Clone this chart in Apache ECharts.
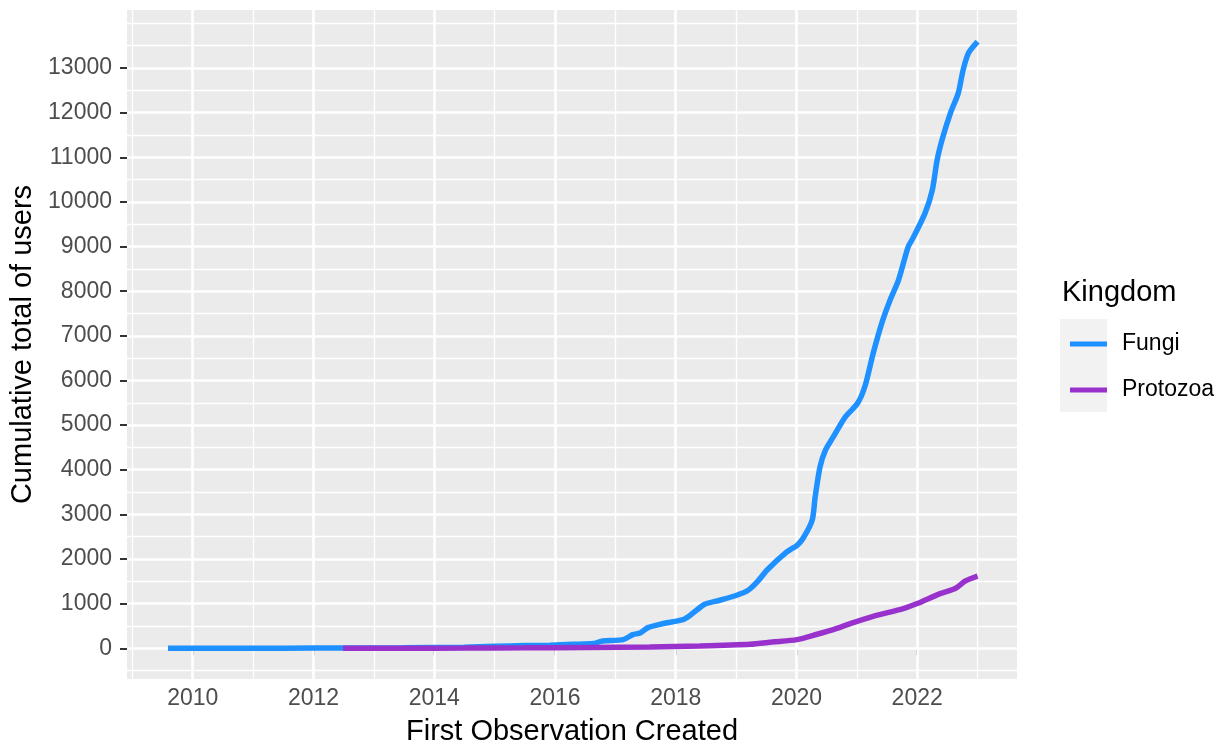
<!DOCTYPE html>
<html>
<head>
<meta charset="utf-8">
<script src="https://cdn.jsdelivr.net/npm/echarts@6/dist/echarts.min.js"></script>
<style>
  html, body { margin: 0; background: #fff; }
  #chart { width: 1225px; height: 748px; }
</style>
</head>
<body>
<div id="chart"></div>
<script>
const fungiYear = [2009.59, 2010.5, 2011.5, 2012.5, 2013.5, 2014.5, 2015.0, 2015.5, 2015.92, 2016.3, 2016.63, 2016.79, 2017.13, 2017.29, 2017.41, 2017.54, 2017.74, 2018.12, 2018.24, 2018.48, 2018.73, 2019.01, 2019.2, 2019.35, 2019.51, 2019.84, 2020.01, 2020.11, 2020.26, 2020.31, 2020.39, 2020.48, 2020.61, 2020.81, 2021.01, 2021.14, 2021.27, 2021.42, 2021.55, 2021.69, 2021.85, 2021.93, 2022.13, 2022.25, 2022.33, 2022.42, 2022.55, 2022.68, 2022.76, 2022.85, 2023.0]
const fungiUsers = [1, 2, 3, 5, 10, 25, 45, 60, 70, 90, 105, 165, 195, 306, 343, 463, 538, 643, 740, 986, 1076, 1188, 1300, 1486, 1748, 2158, 2308, 2465, 2869, 3391, 4063, 4438, 4736, 5184, 5484, 5894, 6605, 7313, 7800, 8247, 8994, 9189, 9749, 10265, 10937, 11430, 11990, 12438, 12954, 13335, 13590]
const protozoaYear = [2012.49, 2013.5, 2014.5, 2015.5, 2016.5, 2017.57, 2018.4, 2019.23, 2019.6, 2020.01, 2020.34, 2020.61, 2020.89, 2021.27, 2021.77, 2022.0, 2022.38, 2022.63, 2022.8, 2022.96, 2023.0]
const protozoaUsers = [0, 2, 5, 10, 18, 30, 52, 90, 140, 195, 314, 419, 553, 717, 890, 1002, 1226, 1338, 1509, 1598, 1615]

const yearTicks = [2010, 2012, 2014, 2016, 2018, 2020, 2022]
const minorYears = [2009, 2011, 2013, 2015, 2017, 2019, 2021, 2023]
const userTicks = [0, 1000, 2000, 3000, 4000, 5000, 6000, 7000, 8000, 9000, 10000, 11000, 12000, 13000]
const minorUsers = [-500, 500, 1500, 2500, 3500, 4500, 5500, 6500, 7500, 8500, 9500, 10500, 11500, 12500, 13500, 14000]

const font = 'Liberation Sans, Arial, sans-serif'

const gridLines = [
  ...minorYears.map(v => ({ xAxis: v, lineStyle: { width: 1.3 } })),
  ...minorUsers.map(v => ({ yAxis: v, lineStyle: { width: 1.3 } })),
  ...yearTicks.map(v => ({ xAxis: v, lineStyle: { width: 2.6 } })),
  ...userTicks.map(v => ({ yAxis: v, lineStyle: { width: 2.6 } }))
]

const chart = echarts.init(document.getElementById('chart'))

chart.setOption({
  animation: false,
  textStyle: { fontFamily: font },
  grid: {
    left: 127, right: 208, top: 10, bottom: 69,
    outerBoundsMode: 'none',
    containLabel: false,
    show: true, backgroundColor: '#EBEBEB', borderWidth: 0
  },
  xAxis: {
    type: 'value',
    min: 2008.911,
    max: 2023.653,
    name: 'First Observation Created',
    nameLocation: 'middle',
    nameGap: 38,
    nameTextStyle: { fontSize: 29, color: '#000', fontFamily: font },
    axisLine: { show: false },
    axisTick: { show: true, length: 7, customValues: yearTicks, lineStyle: { color: '#333', width: 2 } },
    axisLabel: { customValues: yearTicks, formatter: v => String(v), fontSize: 23, color: '#4D4D4D', margin: 8, fontFamily: font },
    splitLine: { show: false }
  },
  yAxis: {
    type: 'value',
    min: -688,
    max: 14300,
    name: 'Cumulative total of users',
    nameLocation: 'middle',
    nameGap: 85,
    nameTextStyle: { fontSize: 29, color: '#000', fontFamily: font },
    axisLine: { show: false },
    axisTick: { show: true, length: 7, customValues: userTicks, lineStyle: { color: '#333', width: 2 } },
    axisLabel: { customValues: userTicks, formatter: v => String(v), fontSize: 23, color: '#4D4D4D', margin: 15, fontFamily: font },
    splitLine: { show: false }
  },
  legend: {
    data: ['Fungi', 'Protozoa'],
    orient: 'vertical',
    left: 1065,
    top: 327,
    icon: 'rect',
    itemWidth: 37,
    itemHeight: 5,
    itemGap: 22,
    textStyle: { fontSize: 23, color: '#000', lineHeight: 24, padding: [0, 0, 0, 10], fontFamily: font }
  },
  graphic: [
    { type: 'rect', shape: { x: 1060, y: 319, width: 47, height: 93 }, style: { fill: '#F2F2F2' }, silent: true },
    { type: 'text', x: 1062, y: 293, style: { text: 'Kingdom', font: '29px ' + font, fill: '#000', verticalAlign: 'middle' }, silent: true }
  ],
  series: [
    {
      name: 'grid',
      type: 'line',
      data: [],
      silent: true,
      markLine: {
        silent: true,
        z: 1,
        symbol: ['none', 'none'],
        label: { show: false },
        lineStyle: { color: '#FFFFFF', type: 'solid' },
        emphasis: { disabled: true },
        data: gridLines
      }
    },
    {
      name: 'Fungi',
      type: 'line',
      z: 3,
      showSymbol: false,
      smooth: 0.25,
      color: '#1E90FF',
      lineStyle: { width: 5.5, color: '#1E90FF' },
      data: fungiYear.map((y, i) => [y, fungiUsers[i]])
    },
    {
      name: 'Protozoa',
      type: 'line',
      z: 4,
      showSymbol: false,
      smooth: 0.25,
      color: '#9932CC',
      lineStyle: { width: 5.5, color: '#9932CC' },
      data: protozoaYear.map((y, i) => [y, protozoaUsers[i]])
    }
  ]
})
</script>
</body>
</html>
